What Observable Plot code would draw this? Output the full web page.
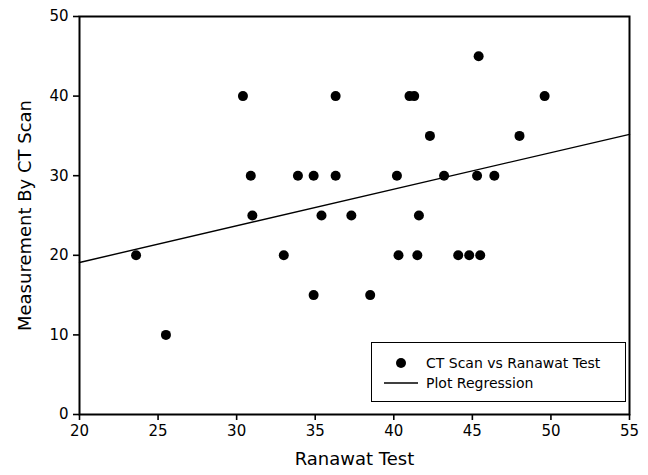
<!DOCTYPE html>
<html><head><meta charset="utf-8">
<script src="https://cdn.jsdelivr.net/npm/d3@7"></script>
<script src="https://cdn.jsdelivr.net/npm/@observablehq/plot@0.6"></script>
<style>
body{margin:0;background:#fff;font-family:"DejaVu Sans",sans-serif;}
#wrap{position:relative;width:648px;height:475px;}
#legend{position:absolute;left:371px;top:342px;width:255px;height:60px;border:1.6px solid #000;background:#fff;font-size:14px;box-sizing:border-box;}
#legend .row{position:absolute;left:0;height:18px;line-height:18px;}
</style></head><body>
<div id="wrap"></div>
<script>
const ranawat = [23.6,25.5,30.4,30.9,31.0,33.0,33.9,34.9,34.9,35.4,36.3,36.3,37.3,38.5,40.3,40.2,41.0,41.3,41.5,41.6,42.3,43.2,44.1,44.8,45.4,45.3,45.5,46.4,48.0,49.6];
const ctScan  = [20,10,40,30,25,20,30,30,15,25,40,30,25,15,20,30,40,40,20,25,35,30,20,20,45,30,20,30,35,40];
const regX = [20,55];
const regY = [19.1,35.2];
const xTicks = [20,25,30,35,40,45,50,55];
const yTicks = [0,10,20,30,40,50];

const pts = ranawat.map((x,i)=>({x, y: ctScan[i]}));
const reg = regX.map((x,i)=>({x, y: regY[i]}));

const chart = Plot.plot({
  width: 648, height: 475,
  marginLeft: 79, marginRight: 19, marginTop: 16, marginBottom: 61,
  style: {fontFamily: '"DejaVu Sans", sans-serif', fontSize: "15px", color: "#000", background: "#fff"},
  x: {domain: [20,55], label: null},
  y: {domain: [0,50], label: null},
  marks: [
    Plot.frame({stroke: "#000", strokeWidth: 2}),
    Plot.axisX({ticks: xTicks, tickSize: 6, tickPadding: 5, stroke: "#000", strokeWidth: 1.6, label: null}),
    Plot.axisY({ticks: yTicks, tickSize: 6, tickPadding: 5, stroke: "#000", strokeWidth: 1.6, label: null}),
    Plot.line(reg, {x: "x", y: "y", stroke: "#000", strokeWidth: 1.4}),
    Plot.dot(pts, {x: "x", y: "y", r: 5, fill: "#000", stroke: "none"}),
    Plot.text(["Ranawat Test"], {frameAnchor: "bottom", dy: 50, fontSize: 18, text: d => d, fill: "#000"}),
    Plot.text(["Measurement By CT Scan"], {frameAnchor: "left", dx: -54, rotate: -90, textAnchor: "middle", fontSize: 18, text: d => d, fill: "#000"})
  ]
});
const wrap = document.getElementById("wrap");
wrap.appendChild(chart);
const lg = document.createElement("div");
lg.id = "legend";
lg.innerHTML = `
<div class="row" style="top:11px;width:100%">
  <svg width="60" height="18" style="position:absolute;left:0;top:0"><circle cx="29" cy="9" r="5" fill="#000"/></svg>
  <span style="position:absolute;left:54px;white-space:nowrap">CT Scan vs Ranawat Test</span>
</div>
<div class="row" style="top:31px;width:100%">
  <svg width="60" height="18" style="position:absolute;left:0;top:0"><line x1="12" x2="46" y1="9" y2="9" stroke="#000" stroke-width="1.4"/></svg>
  <span style="position:absolute;left:54px;white-space:nowrap">Plot Regression</span>
</div>`;
wrap.appendChild(lg);
</script>
</body></html>
